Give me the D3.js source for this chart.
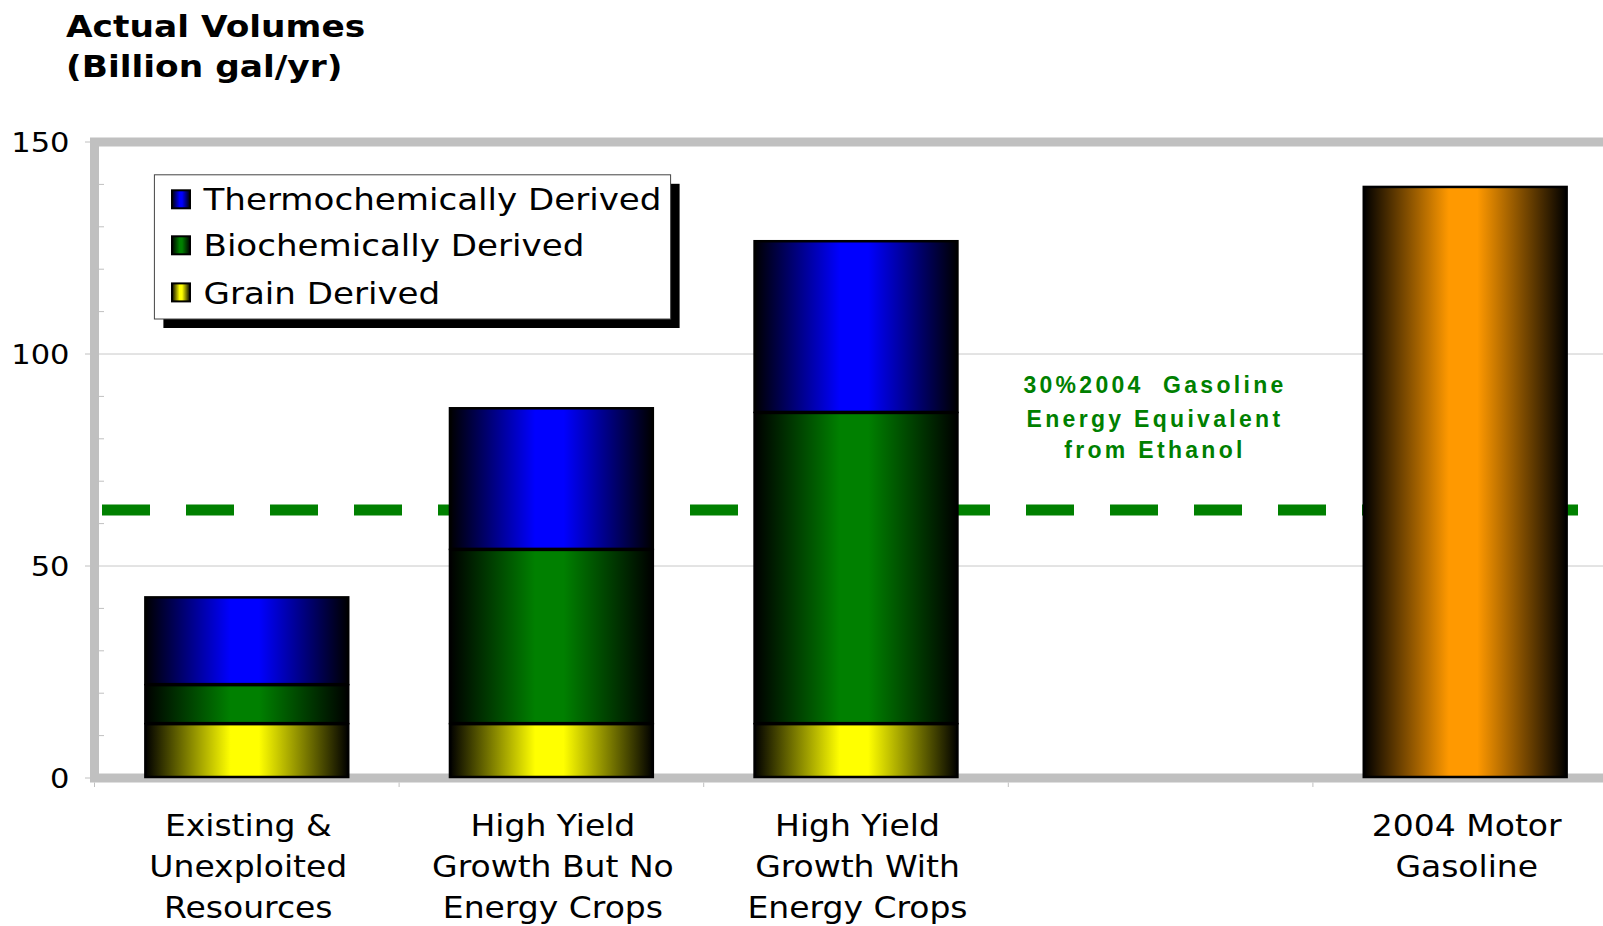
<!DOCTYPE html>
<html><head><meta charset="utf-8">
<script src="https://cdn.jsdelivr.net/npm/d3@7"></script>
<style>body{margin:0;background:#fff}svg{display:block}</style>
</head><body>
<svg id="chart" width="1603" height="926"></svg>
<script>
const categories = ["Existing &\nUnexploited\nResources", "High Yield\nGrowth But No\nEnergy Crops", "High Yield\nGrowth With\nEnergy Crops", "", "2004 Motor\nGasoline"];
const grainDerived = [12.7, 12.7, 12.7, 0, 0];
const biochemicallyDerived = [9.2, 41.1, 73.4, 0, 0];
const thermochemicallyDerived = [20.7, 33.4, 40.5, 0, 0];
const motorGasoline = [0, 0, 0, 0, 139.4];
const ethanolTarget = 63.2;
const yTicks = [0, 50, 100, 150];
const yMinorTicks = [10, 20, 30, 40, 60, 70, 80, 90, 110, 120, 130, 140];
const legendLabels = ["Thermochemically Derived", "Biochemically Derived", "Grain Derived"];
const annotationLines = ["30%2004  Gasoline", "Energy Equivalent", "from Ethanol"];
const titleLines = ["Actual Volumes", "(Billion gal/yr)"];

const svg = d3.select("#chart");
const W = 1603, H = 926;
const plotLeft = 94.5, step = 304.6;

const keys = ["grain", "bio", "thermo", "gas"];
const colors = {grain: "#FFFF00", bio: "#008000", thermo: "#0000FF", gas: "#FF9900"};
const rows = categories.map((c, i) => ({cat: c, grain: grainDerived[i], bio: biochemicallyDerived[i], thermo: thermochemicallyDerived[i], gas: motorGasoline[i]}));

const x = d3.scaleBand().domain(categories).range([plotLeft, plotLeft + step * categories.length]).paddingInner(0.334).paddingOuter(0.167);
const y = d3.scaleLinear().domain([0, 150]).range([778, 142]);

const defs = svg.append("defs");
keys.forEach(k => {
  const g = defs.append("linearGradient").attr("id", "grad-" + k).attr("x1", 0).attr("x2", 1).attr("y1", 0).attr("y2", 0);
  g.append("stop").attr("offset", "0%").attr("stop-color", "#000");
  g.append("stop").attr("offset", "42%").attr("stop-color", colors[k]);
  g.append("stop").attr("offset", "56%").attr("stop-color", colors[k]);
  g.append("stop").attr("offset", "100%").attr("stop-color", "#000");
});

// gridlines
svg.append("g").selectAll("line").data(yTicks.filter(v => v > 0 && v < 150)).join("line")
  .attr("x1", 99).attr("x2", W).attr("y1", d => y(d)).attr("y2", d => y(d))
  .attr("stroke", "#c8c8c8").attr("stroke-width", 1);
// minor ticks
svg.append("g").selectAll("line").data(yMinorTicks).join("line")
  .attr("x1", 99).attr("x2", 104).attr("y1", d => y(d)).attr("y2", d => y(d))
  .attr("stroke", "#c0c0c0").attr("stroke-width", 1);

// dashed target line
svg.append("line").attr("x1", 102).attr("x2", W + 10).attr("y1", y(ethanolTarget)).attr("y2", y(ethanolTarget))
  .attr("stroke", "#008000").attr("stroke-width", 11).attr("stroke-dasharray", "48 36");

// frame
svg.append("rect").attr("x", plotLeft).attr("y", y(150)).attr("width", 1700).attr("height", y(0) - y(150))
  .attr("fill", "none").attr("stroke", "#c0c0c0").attr("stroke-width", 9);

// bars
const stacked = d3.stack().keys(keys)(rows);
svg.append("g").selectAll("g").data(stacked).join("g")
  .attr("fill", d => "url(#grad-" + d.key + ")")
  .selectAll("rect").data(d => d.filter(s => s[1] - s[0] > 0)).join("rect")
  .attr("x", d => x(d.data.cat)).attr("width", x.bandwidth())
  .attr("y", d => y(d[1])).attr("height", d => y(d[0]) - y(d[1]) - 1)
  .attr("stroke", "#000").attr("stroke-width", 2.5);

// y major ticks
svg.append("g").selectAll("line").data(yTicks).join("line")
  .attr("x1", 85).attr("x2", 91).attr("y1", d => y(d)).attr("y2", d => y(d))
  .attr("stroke", "#c0c0c0").attr("stroke-width", 1);
// y labels
svg.append("g").selectAll("g").data(yTicks).join("g")
  .attr("transform", d => `translate(69.5,${y(d)}) scale(1.13,1)`)
  .append("text").attr("text-anchor", "end").attr("dy", "0.36em")
  .attr("font-family", "DejaVu Sans").attr("font-size", 27).attr("fill", "#000")
  .text(d => d);

// x ticks at band boundaries
const boundaries = categories.map(c => x(c) - x.step() * x.paddingInner() / 2);
svg.append("g").selectAll("line").data(boundaries).join("line")
  .attr("x1", d => d).attr("x2", d => d).attr("y1", 782.5).attr("y2", 787)
  .attr("stroke", "#c0c0c0").attr("stroke-width", 1);

// category labels
const cl = svg.append("g").selectAll("g").data(categories.filter(c => c !== "")).join("g")
  .attr("transform", d => `translate(${x(d) + x.bandwidth() / 2 + 1.5},836) scale(1.1,1)`)
  .append("text").attr("text-anchor", "middle")
  .attr("font-family", "DejaVu Sans").attr("font-size", 30).attr("fill", "#000");
cl.selectAll("tspan").data(d => d.split("\n")).join("tspan")
  .attr("x", 0).attr("dy", (d, i) => i === 0 ? 0 : 41).text(d => d);

// legend
const lg = svg.append("g");
lg.append("rect").attr("x", 163.4).attr("y", 183.8).attr("width", 516.2).attr("height", 144.2).attr("fill", "#000");
lg.append("rect").attr("x", 154.4).attr("y", 174.8).attr("width", 516.2).attr("height", 144.2).attr("fill", "#fff").attr("stroke", "#444").attr("stroke-width", 1);
const legendKeys = ["thermo", "bio", "grain"];
const legendY = [199.3, 245.3, 292.4];
legendLabels.forEach((lab, i) => {
  lg.append("rect").attr("x", 172).attr("y", legendY[i] - 9).attr("width", 18).attr("height", 18)
    .attr("fill", "url(#grad-" + legendKeys[i] + ")").attr("stroke", "#000").attr("stroke-width", 2);
  lg.append("g").attr("transform", `translate(203.5,${legendY[i]}) scale(1.1,1)`)
    .append("text").attr("dy", "0.36em").attr("font-family", "DejaVu Sans").attr("font-size", 31).attr("fill", "#000").text(lab);
});

// annotation
const annY = [385, 418.3, 450];
svg.append("g").selectAll("text").data(annotationLines).join("text")
  .attr("x", 1155).attr("y", (d, i) => annY[i]).attr("dy", "0.36em")
  .attr("text-anchor", "middle").attr("font-family", "Liberation Sans, Arial").attr("font-weight", "bold")
  .attr("font-size", 23).attr("letter-spacing", 3.3).attr("fill", "#008000").style("white-space", "pre")
  .text(d => d);

// title
const tt = svg.append("g").attr("transform", "translate(66,37.3) scale(1.11,1)")
  .append("text").attr("font-family", "DejaVu Sans").attr("font-weight", "bold").attr("font-size", 31).attr("fill", "#000");
tt.selectAll("tspan").data(titleLines).join("tspan").attr("x", 0).attr("dy", (d, i) => i === 0 ? 0 : 40).text(d => d);
</script>
</body></html>
